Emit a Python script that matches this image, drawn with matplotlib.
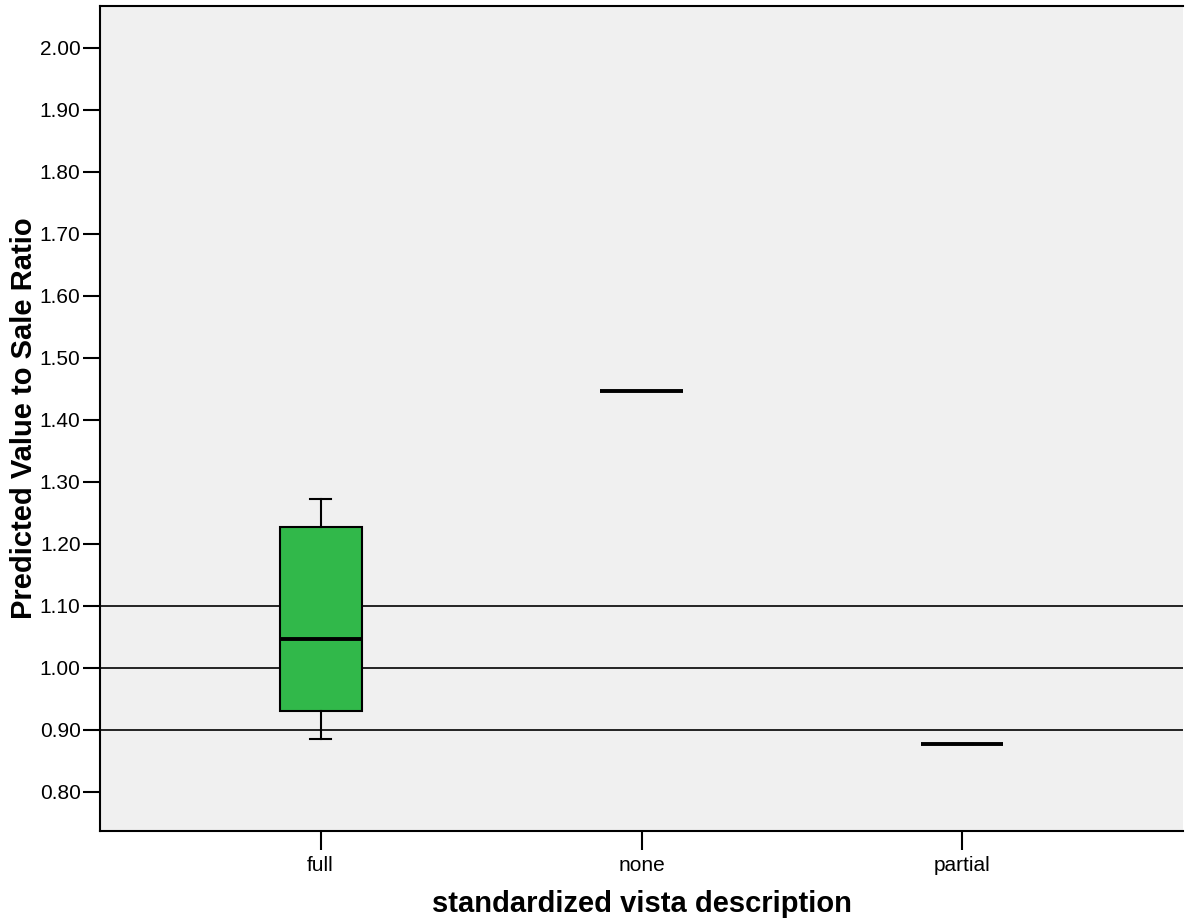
import matplotlib
matplotlib.use("Agg")
import matplotlib.pyplot as plt

categories = ["full", "none", "partial"]
q1 = [0.930, 1.446, 0.877]
median = [1.047, 1.446, 0.877]
q3 = [1.228, 1.446, 0.877]
whis_lo = [0.885, 1.446, 0.877]
whis_hi = [1.272, 1.446, 0.877]
ref_lines = [0.90, 1.00, 1.10]
yticks = [0.80, 0.90, 1.00, 1.10, 1.20, 1.30, 1.40, 1.50, 1.60, 1.70, 1.80, 1.90, 2.00]

plt.rcParams['font.family'] = ['Liberation Sans', 'DejaVu Sans']

fig = plt.figure(figsize=(11.85, 9.18), dpi=100)
W, H = 1185, 918
ax = fig.add_axes([100 / W, 1 - 831 / H, (1183 - 100) / W, (831 - 6) / H])
ax.set_facecolor('#F0F0F0')

for r in ref_lines:
    ax.axhline(r, color='black', lw=1.2, zorder=1)

stats = []
for i, c in enumerate(categories):
    stats.append(dict(label=c, q1=q1[i], med=median[i], q3=q3[i],
                      whislo=whis_lo[i], whishi=whis_hi[i], fliers=[]))

ax.bxp(stats, positions=range(len(categories)), widths=0.256, patch_artist=True,
       showfliers=False, capwidths=0.066,
       boxprops=dict(facecolor='#31B84A', edgecolor='black', linewidth=1.5),
       medianprops=dict(color='black', linewidth=2.8),
       whiskerprops=dict(color='black', linewidth=1.5),
       capprops=dict(color='black', linewidth=1.5), zorder=3)

ax.set_xlim(-0.6875, 2.6875)
ax.set_ylim(0.737, 2.0677)
ax.set_yticks(yticks)
ax.set_yticklabels([f"{v:.2f}" for v in yticks])
ax.set_xticks(range(len(categories)))
ax.set_xticklabels(categories)

ax.tick_params(axis='y', length=12, width=1.5, labelsize=15, pad=2)
ax.tick_params(axis='x', length=14, width=1.5, labelsize=15, pad=4)
for s in ['left', 'bottom', 'top']:
    ax.spines[s].set_linewidth(1.5)
ax.spines['right'].set_visible(False)

ax.set_ylabel("Predicted Value to Sale Ratio", fontsize=21, fontweight='bold', labelpad=1)
ax.set_xlabel("standardized vista description", fontsize=21, fontweight='bold', labelpad=11)

fig.savefig("out.png", dpi=100)
